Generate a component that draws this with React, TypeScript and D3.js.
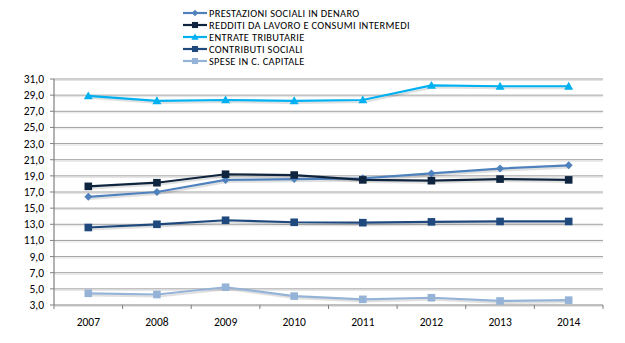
import React from "react";
import * as d3 from "d3";

const years = ["2007", "2008", "2009", "2010", "2011", "2012", "2013", "2014"];
const prestazioni = [16.4, 17.0, 18.5, 18.6, 18.7, 19.3, 19.9, 20.3];
const redditi = [17.7, 18.15, 19.2, 19.1, 18.5, 18.4, 18.6, 18.5];
const entrate = [28.9, 28.3, 28.4, 28.3, 28.4, 30.2, 30.1, 30.1];
const contributi = [12.6, 13.0, 13.5, 13.25, 13.2, 13.3, 13.35, 13.35];
const spese = [4.45, 4.3, 5.2, 4.1, 3.7, 3.9, 3.5, 3.6];
const yTicks = [3, 5, 7, 9, 11, 13, 15, 17, 19, 21, 23, 25, 27, 29, 31];

const seriesList = [
  { name: "PRESTAZIONI SOCIALI IN DENARO", values: prestazioni, color: "#4F81BD", marker: "diamond" },
  { name: "REDDITI DA LAVORO E CONSUMI INTERMEDI", values: redditi, color: "#0F243E", marker: "square" },
  { name: "ENTRATE TRIBUTARIE", values: entrate, color: "#00B0F0", marker: "triangle" },
  { name: "CONTRIBUTI SOCIALI", values: contributi, color: "#1F497D", marker: "square" },
  { name: "SPESE IN C. CAPITALE", values: spese, color: "#95B3D7", marker: "square" },
];

const W = 625, H = 343;
const left = 54, right = 603, top = 79, bottom = 305;

function Marker({ type, x, y, color, s = 1 }: { type: string; x: number; y: number; color: string; s?: number }) {
  if (type === "diamond") {
    const r = 4 * s;
    return <path d={`M${x},${y - r}L${x + r},${y}L${x},${y + r}L${x - r},${y}Z`} fill={color} />;
  }
  if (type === "triangle") {
    const r = 4.5 * s;
    return <path d={`M${x},${y - r}L${x + r},${y + r * 0.75}L${x - r},${y + r * 0.75}Z`} fill={color} />;
  }
  const r = 3.8 * s;
  return <rect x={x - r} y={y - r} width={2 * r} height={2 * r} fill={color} />;
}

export default function App() {
  const x = d3.scaleBand().domain(years).range([left, right]);
  const y = d3.scaleLinear().domain([3, 31]).range([bottom, top]);
  const cx = (yr: string) => (x(yr) as number) + x.bandwidth() / 2;
  const font = "Calibri, Carlito, 'Open Sans', 'Liberation Sans', sans-serif";
  const line = d3.line<number>().x((_, i) => cx(years[i])).y((v) => y(v));
  const boundaries = years.map((yr) => x(yr) as number).concat([right]);

  return (
    <svg width={W} height={H} style={{ position: "absolute", left: 0, top: 0, background: "#fff" }} fontFamily={font}>
      {yTicks.map((t) => (
        <g key={t}>
          <line x1={left} x2={right} y1={y(t) + 1.5} y2={y(t) + 1.5} stroke="#e3e3e3" strokeWidth={1} />
          {t !== 3 && <line x1={left} x2={right} y1={y(t)} y2={y(t)} stroke="#a0a0a0" strokeWidth={1} />}
        </g>
      ))}
      <line x1={left} x2={left} y1={top} y2={bottom} stroke="#808080" strokeWidth={1.2} />
      <line x1={left} x2={right} y1={bottom} y2={bottom} stroke="#808080" strokeWidth={1.2} />
      {yTicks.map((t) => (
        <line key={"yt" + t} x1={left - 4} x2={left} y1={y(t)} y2={y(t)} stroke="#808080" />
      ))}
      {boundaries.map((b, i) => (
        <line key={"xt" + i} x1={b} x2={b} y1={bottom} y2={bottom + 4} stroke="#808080" />
      ))}
      {yTicks.map((t) => (
        <text key={"yl" + t} x={44} y={y(t) + 4} textAnchor="end" fontSize={11.5} fill="#000">
          {d3.format(".1f")(t).replace(".", ",")}
        </text>
      ))}
      {years.map((yr) => (
        <text key={"xl" + yr} x={cx(yr)} y={326} textAnchor="middle" fontSize={11.5} fill="#000">
          {yr}
        </text>
      ))}
      {seriesList.map((s) => (
        <path key={"sh" + s.name} d={line(s.values) || ""} transform="translate(1.5,2)" fill="none" stroke="rgba(0,0,0,0.12)" strokeWidth={2.2} />
      ))}
      {seriesList.map((s) => (
        <g key={s.name}>
          <path d={line(s.values) || ""} fill="none" stroke={s.color} strokeWidth={2.2} />
          {s.values.map((v, i) => (
            <Marker key={i} type={s.marker} x={cx(years[i])} y={y(v)} color={s.color} />
          ))}
        </g>
      ))}
      {seriesList.map((s, i) => {
        const ly = 13 + i * 12;
        return (
          <g key={"lg" + s.name}>
            <line x1={183} x2={207} y1={ly} y2={ly} stroke={s.color} strokeWidth={2.2} />
            <Marker type={s.marker} x={195} y={ly} color={s.color} s={0.8} />
            <text x={209} y={ly + 3.5} fontSize={10.4} letterSpacing={0.35} fill="#000">
              {s.name}
            </text>
          </g>
        );
      })}
    </svg>
  );
}
